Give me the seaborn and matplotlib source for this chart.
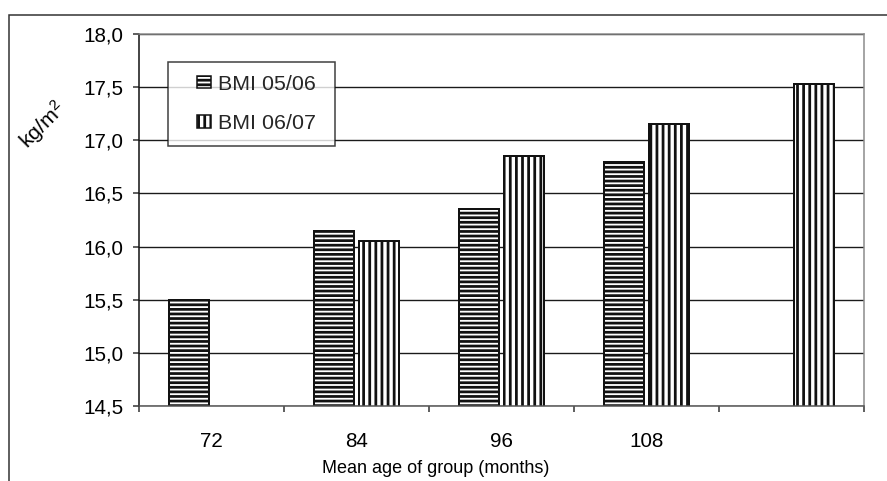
import numpy as np
import pandas as pd
import matplotlib
matplotlib.use("Agg")
import matplotlib.pyplot as plt
from matplotlib.patches import Patch, Rectangle
from matplotlib.legend_handler import HandlerPatch
from matplotlib.ticker import FuncFormatter, FixedLocator
import seaborn as sns

# Mean BMI per age group for two school years
ages = ["72", "84", "96", "108", " "]
bmi_0506 = [15.5, 16.15, 16.35, 16.8, np.nan]
bmi_0607 = [np.nan, 16.05, 16.85, 17.15, 17.53]
series = ["BMI 05/06", "BMI 06/07"]
hatches = ["----", "|||"]

df = pd.DataFrame({
    "age": ages * 2,
    "bmi": bmi_0506 + bmi_0607,
    "series": [series[0]] * len(ages) + [series[1]] * len(ages),
})

sns.set_theme(style="white")
plt.rcParams["font.family"] = ["Liberation Sans", "DejaVu Sans"]
plt.rcParams["mathtext.fontset"] = "custom"
plt.rcParams["mathtext.rm"] = "Liberation Sans"
plt.rcParams["mathtext.it"] = "Liberation Sans"
plt.rcParams["hatch.linewidth"] = 1.8

dpi = 110
fig = plt.figure(figsize=(887 / dpi, 481 / dpi), dpi=dpi)
fig.patch.set_facecolor("white")
ax = fig.add_axes([139 / 887, 1 - 406 / 481, 725 / 887, 372 / 481])

sns.barplot(data=df, x="age", y="bmi", hue="series", order=ages,
            hue_order=series, ax=ax, width=0.62, gap=0.12,
            palette=["white", "white"], edgecolor="#111111",
            linewidth=1.3, legend=False)

for container, h in zip(ax.containers, hatches):
    for bar in container:
        bar.set_hatch(h)
        bar.set_edgecolor("#111111")
        bar.set_facecolor("white")

ax.set_ylim(14.5, 18.0)
ax.set_xlim(-0.5, len(ages) - 0.5)
ax.set_yticks(np.arange(14.5, 18.01, 0.5))
ax.yaxis.set_major_formatter(FuncFormatter(lambda v, p: f"{v:.1f}".replace(".", ",")))
ax.grid(axis="y", color="#1a1a1a", linewidth=0.9)
ax.set_axisbelow(True)

ax.xaxis.set_minor_locator(FixedLocator(np.arange(-0.5, len(ages), 1.0)))
ax.tick_params(axis="x", which="major", length=0, pad=17, labelsize=13.5, colors="black")
ax.tick_params(axis="x", which="minor", length=4, width=1, color="#333333", bottom=True)
ax.tick_params(axis="y", which="major", length=4, width=1, color="#333333",
               left=True, pad=6, labelsize=13.5, colors="black")

for side in ["top", "right"]:
    ax.spines[side].set_visible(True)
    ax.spines[side].set_color("#8c8c8c")
    ax.spines[side].set_linewidth(1.0)
ax.spines["left"].set_color("#111111")
ax.spines["bottom"].set_color("#555555")
for side in ["left", "bottom"]:
    ax.spines[side].set_linewidth(1.0)

ax.set_xlabel("Mean age of group (months)", fontsize=11.8, color="black")
ax.xaxis.set_label_coords((436 - 139) / 725, -0.145)
ax.set_ylabel("")
fig.text(43 / 887, 1 - 125 / 481, "kg/m$^2$", rotation=45, ha="center", va="center",
         fontsize=14, color="black")


def small_square(legend, orig_handle, xdescent, ydescent, width, height, fontsize):
    # square swatch pushed to the right end of the handle box
    return Rectangle((width - height * 1.15 - xdescent, -ydescent), height * 1.15, height)


handles = [Patch(facecolor="white", edgecolor="#111111", hatch=h, linewidth=1.0)
           for h in hatches]
leg = ax.legend(handles, [s + " " for s in series], loc="upper left",
                bbox_to_anchor=(0.04, 0.925), borderaxespad=0, frameon=True,
                fancybox=False, fontsize=14, handlelength=1.4, handleheight=0.5,
                handletextpad=0.33, labelspacing=0.95, borderpad=0.6,
                handler_map={Patch: HandlerPatch(patch_func=small_square)})
leg.get_frame().set_edgecolor("#111111")
leg.get_frame().set_linewidth(1.0)

# Outer chart frame
fig.add_artist(Rectangle((9 / 887, -0.1), 2.0, 1 - 15 / 481 + 0.1,
                         transform=fig.transFigure, fill=False,
                         edgecolor="#333333", linewidth=1.0))

fig.savefig("out.png", dpi=dpi)
